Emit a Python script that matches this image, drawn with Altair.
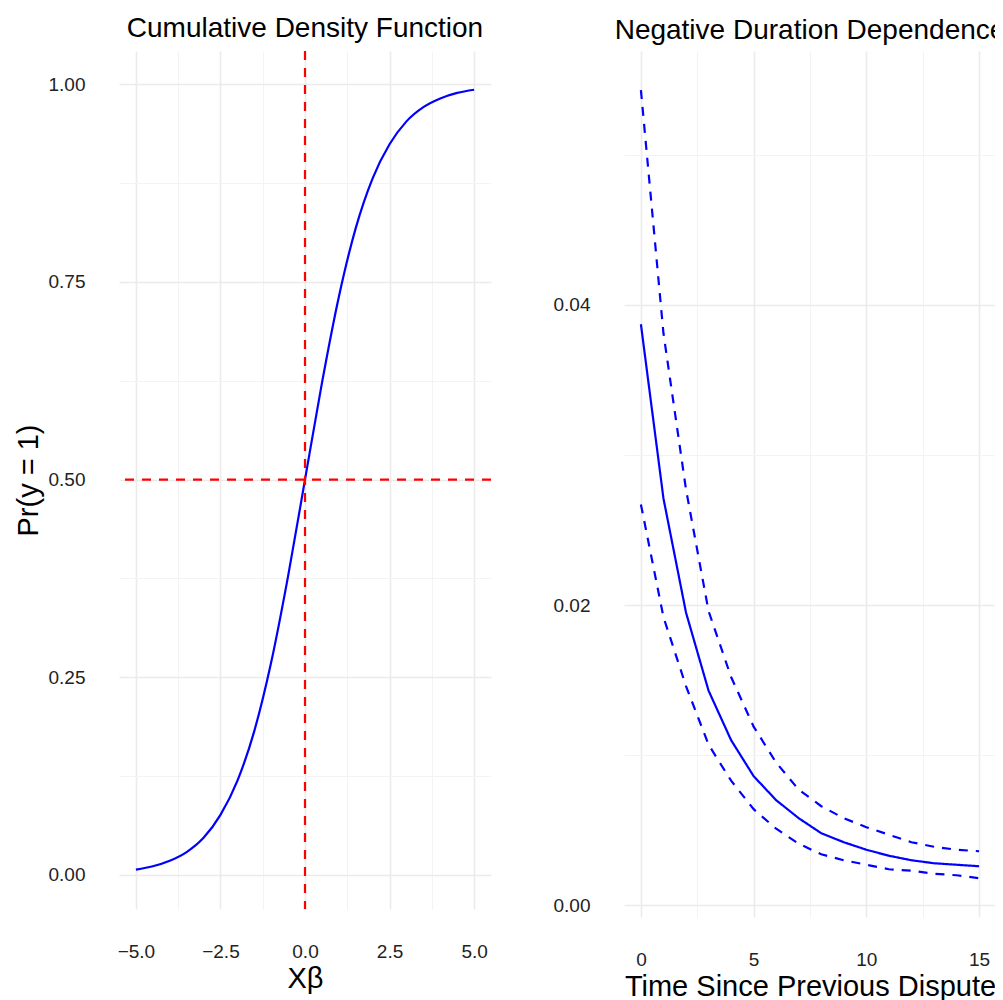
import altair as alt
import pandas as pd

# ---------------- data ----------------
# Left panel: cumulative density curve
xb = [-5.0, -4.5, -4.0, -3.5, -3.0, -2.5, -2.0, -1.5, -1.0, -0.5, 0.0,
      0.5, 1.0, 1.5, 2.0, 2.5, 3.0, 3.5, 4.0, 4.5, 5.0]
pr = [0.0067, 0.011, 0.018, 0.029, 0.047, 0.076, 0.119, 0.182, 0.269, 0.378, 0.500,
      0.622, 0.731, 0.818, 0.881, 0.924, 0.953, 0.971, 0.982, 0.989, 0.993]
vline_x = [0.0]
hline_y = [0.5]

# Right panel: negative duration dependence
t = list(range(16))
mid = [0.0387, 0.0271, 0.0195, 0.0143, 0.0110, 0.0086, 0.0070, 0.0058,
       0.0048, 0.0042, 0.0037, 0.0033, 0.0030, 0.0028, 0.0027, 0.0026]
upper = [0.0543, 0.0381, 0.0277, 0.0196, 0.0152, 0.0119, 0.0095, 0.0077,
         0.0066, 0.0058, 0.0052, 0.0047, 0.0042, 0.0039, 0.0037, 0.0036]
lower = [0.0267, 0.0192, 0.0146, 0.0107, 0.0083, 0.0064, 0.0051, 0.0041,
         0.0034, 0.0030, 0.0027, 0.0024, 0.0023, 0.0021, 0.0020, 0.0018]

# tick values (major + minor grid)
left_x_ticks = [-5.0, -3.75, -2.5, -1.25, 0.0, 1.25, 2.5, 3.75, 5.0]
left_y_ticks = [0.0, 0.125, 0.25, 0.375, 0.5, 0.625, 0.75, 0.875, 1.0]
right_x_ticks = [0, 2.5, 5, 7.5, 10, 12.5, 15]
right_y_ticks = [0.0, 0.01, 0.02, 0.03, 0.04, 0.05]

FONT = "Liberation Sans"
MAJOR = "#EBEBEB"
MINOR = "#F3F3F3"
BLUE = "#0000FF"
RED = "#FF0000"
DASH = [9, 8]


def make_axis(values, major_test, fmt, title=None):
    kw = dict(
        values=values,
        labelExpr=f"({major_test}) ? format(datum.value, '{fmt}') : ''",
        labelOverlap=False,
        grid=True,
        gridColor={"condition": {"test": f"!({major_test})", "value": MINOR}, "value": MAJOR},
        gridWidth={"condition": {"test": f"!({major_test})", "value": 1.0}, "value": 1.6},
    )
    if title is not None:
        kw["title"] = title
    return alt.Axis(**kw)


# ---------------- left panel ----------------
df_cdf = pd.DataFrame({"xb": xb, "pr": pr})
df_v = pd.DataFrame({"x": vline_x})
df_h = pd.DataFrame({"y": hline_y})

xs_left = alt.Scale(domain=[-5.5, 5.5], nice=False, zero=False)
ys_left = alt.Scale(domain=[-0.043, 1.042], nice=False, zero=False)

curve = alt.Chart(df_cdf).mark_line(color=BLUE, strokeWidth=2.2, interpolate="monotone").encode(
    x=alt.X("xb:Q", scale=xs_left,
            axis=make_axis(left_x_ticks, "abs(datum.value % 2.5) < 1e-9", ".1f", "Xβ")),
    y=alt.Y("pr:Q", scale=ys_left,
            axis=make_axis(left_y_ticks, "abs(datum.value % 0.25) < 1e-9", ".2f", "Pr(y = 1)")),
)
vline = alt.Chart(df_v).mark_rule(color=RED, strokeWidth=2.2, strokeDash=DASH).encode(
    x=alt.X("x:Q", scale=xs_left)
)
hline = alt.Chart(df_h).mark_rule(color=RED, strokeWidth=2.2, strokeDash=DASH).encode(
    y=alt.Y("y:Q", scale=ys_left)
)
left = alt.layer(curve, vline, hline).properties(
    width=372, height=858, title="Cumulative Density Function"
)

# ---------------- right panel ----------------
df_r = pd.concat([
    pd.DataFrame({"t": t, "p": mid, "band": "mid"}),
    pd.DataFrame({"t": t, "p": upper, "band": "upper"}),
    pd.DataFrame({"t": t, "p": lower, "band": "lower"}),
], ignore_index=True)

right = alt.Chart(df_r).mark_line(color=BLUE, strokeWidth=2.2).encode(
    x=alt.X("t:Q", scale=alt.Scale(domain=[-0.75, 15.75], nice=False, zero=False),
            axis=make_axis(right_x_ticks, "datum.value % 5 === 0", "d",
                           "Time Since Previous Dispute")),
    y=alt.Y("p:Q", scale=alt.Scale(domain=[-0.00078, 0.0569], nice=False, zero=False),
            axis=make_axis(right_y_ticks, "round(datum.value * 100) % 2 === 0", ".2f"),
            title=None),
    strokeDash=alt.StrokeDash("band:N", scale=alt.Scale(domain=["mid", "upper", "lower"],
                                                        range=[[1, 0], DASH, DASH]),
                              legend=None),
).properties(width=372, height=866, title="Negative Duration Dependence")

chart = alt.hconcat(left, right, spacing=60).properties(
    autosize=alt.AutoSizeParams(type="none"),
    padding={"left": 111, "top": 43, "right": 876, "bottom": 949},
).configure_view(stroke=None).configure_axis(
    domain=False, ticks=False, tickSize=0,
    labelFont=FONT, labelFontSize=19, labelColor="#222222",
    titleFont=FONT, titleFontSize=29, titleFontWeight="normal", titleColor="black",
).configure_axisX(labelPadding=33, titlePadding=3).configure_axisY(
    labelPadding=34, titlePadding=5
).configure_title(
    font=FONT, fontSize=28, fontWeight="normal", color="black",
    anchor="middle", baseline="alphabetic", offset=6.5
)

chart.save("out.html", embed_options={"renderer": "svg", "actions": False})
